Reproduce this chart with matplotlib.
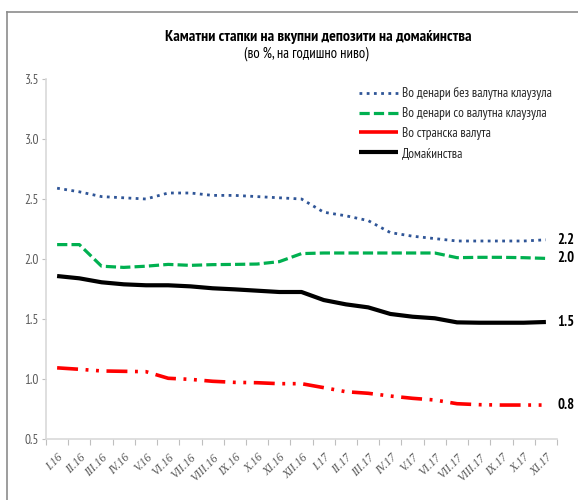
import matplotlib
matplotlib.use("Agg")
import matplotlib.pyplot as plt
from matplotlib import font_manager
from matplotlib.lines import Line2D

names = {f.name for f in font_manager.fontManager.ttflist}
narrow = next((n for n in ["PT Sans Narrow", "Fira Sans Condensed", "Archivo Narrow",
                           "IBM Plex Sans Condensed", "Carlito", "Liberation Sans"]
               if n in names), "DejaVu Sans")
plt.rcParams['font.family'] = [narrow, 'DejaVu Sans']

months = ["I.16", "II.16", "III.16", "IV.16", "V.16", "VI.16", "VII.16", "VIII.16",
          "IX.16", "X.16", "XI.16", "XII.16", "I.17", "II.17", "III.17", "IV.17",
          "V.17", "VI.17", "VII.17", "VIII.17", "IX.17", "X.17", "XI.17"]

den_bez = [2.59, 2.56, 2.52, 2.51, 2.50, 2.55, 2.55, 2.53, 2.53, 2.52, 2.51, 2.50,
           2.39, 2.36, 2.32, 2.22, 2.19, 2.17, 2.15, 2.15, 2.15, 2.15, 2.16]
den_so = [2.12, 2.12, 1.94, 1.93, 1.94, 1.955, 1.947, 1.953, 1.955, 1.958, 1.978, 2.045,
          2.05, 2.05, 2.05, 2.05, 2.05, 2.05, 2.011, 2.014, 2.014, 2.011, 2.005]
stranska = [1.093, 1.081, 1.067, 1.064, 1.061, 1.006, 0.997, 0.981, 0.972, 0.969, 0.961, 0.961,
            0.928, 0.894, 0.881, 0.858, 0.839, 0.825, 0.794, 0.786, 0.783, 0.783, 0.783]
domak = [1.858, 1.839, 1.806, 1.789, 1.781, 1.781, 1.772, 1.756, 1.747, 1.736, 1.725, 1.725,
         1.658, 1.622, 1.597, 1.542, 1.519, 1.506, 1.472, 1.469, 1.469, 1.469, 1.475]

series_names = ["Во денари без валутна клаузула", "Во денари со валутна клаузула",
                "Во странска валута", "Домаќинства"]
end_labels = ["2.2", "2.0", "1.5", "0.8"]
yticks = [0.5, 1.0, 1.5, 2.0, 2.5, 3.0, 3.5]

fig = plt.figure(figsize=(5.78, 5.00), dpi=100)
ax = fig.add_axes([46/578, 1-439/500, (557-46)/578, (439-79)/500])

x = list(range(len(months)))
l1, = ax.plot(x, den_bez, color="#2F5597", lw=2.0, linestyle=(0, (1.0, 1.6)))
l2, = ax.plot(x, den_so, color="#00B050", lw=2.3, linestyle=(0, (3.2, 1.3)))
l3, = ax.plot(x, stranska, color="#FF0000", lw=2.6, linestyle=(0, (5.8, 2.1, 0.8, 2.1, 0.8, 2.1)))
l4, = ax.plot(x, domak, color="#000000", lw=3.0, solid_capstyle='butt')
red_handle = Line2D([], [], color="#FF0000", lw=2.6, solid_capstyle='butt')

ax.set_xlim(-0.5, len(months) - 0.5)
ax.set_ylim(0.5, 3.5)
ax.set_yticks(yticks)
ax.set_yticklabels([f"{v:.1f}" for v in yticks])
ax.set_xticks([i - 0.5 for i in range(len(months) + 1)], minor=False)
ax.set_xticklabels([])
ax.set_xticks(x, minor=True)
ax.set_xticklabels(months, minor=True, rotation=45, ha='right', va='top',
                   rotation_mode='anchor', family='Liberation Serif', style='italic',
                   fontsize=8.5, color='#595959')
ax.tick_params(axis='x', which='minor', length=0, pad=9)
ax.tick_params(axis='x', which='major', length=4, color='#BFBFBF', direction='out')
ax.tick_params(axis='y', length=3, color='#BFBFBF', labelsize=9.5, labelcolor='#595959', pad=2)

for s in ['top', 'right']:
    ax.spines[s].set_visible(False)
for s in ['left', 'bottom']:
    ax.spines[s].set_color('#D9D9D9')
    ax.spines[s].set_linewidth(1.2)

for vals, lab in zip([den_bez, den_so, domak, stranska], end_labels):
    ax.annotate(lab, xy=(x[-1], vals[-1]), xytext=(8, 0), textcoords='offset points',
                ha='left', va='center', fontsize=10.5, fontweight='bold', color='black',
                annotation_clip=False)

leg = ax.legend([l1, l2, red_handle, l4], series_names, loc='upper left',
                bbox_to_anchor=((350 - 46) / (557 - 46), 1 - (78 - 79) / 360),
                frameon=False, fontsize=9.5, handlelength=2.9, handletextpad=0.35,
                labelspacing=0.52, borderpad=0.2)
for t in leg.get_texts():
    t.set_color('#262626')

fig.text(318/578, 1 - 37/500, "Каматни стапки на вкупни депозити на домаќинства",
         ha='center', va='center', fontsize=11.5, fontweight='bold')
fig.text(306/578, 1 - 54/500, "(во %, на годишно ниво)", ha='center', va='center',
         fontsize=10.5)

fig.add_artist(Line2D([7/578, 1.0], [1 - 12/500, 1 - 12/500], transform=fig.transFigure,
                      color='#8C8C8C', lw=1.2))
fig.add_artist(Line2D([7/578, 7/578], [0, 1 - 12/500], transform=fig.transFigure,
                      color='#8C8C8C', lw=1.2))

fig.savefig("out.png", dpi=100)
